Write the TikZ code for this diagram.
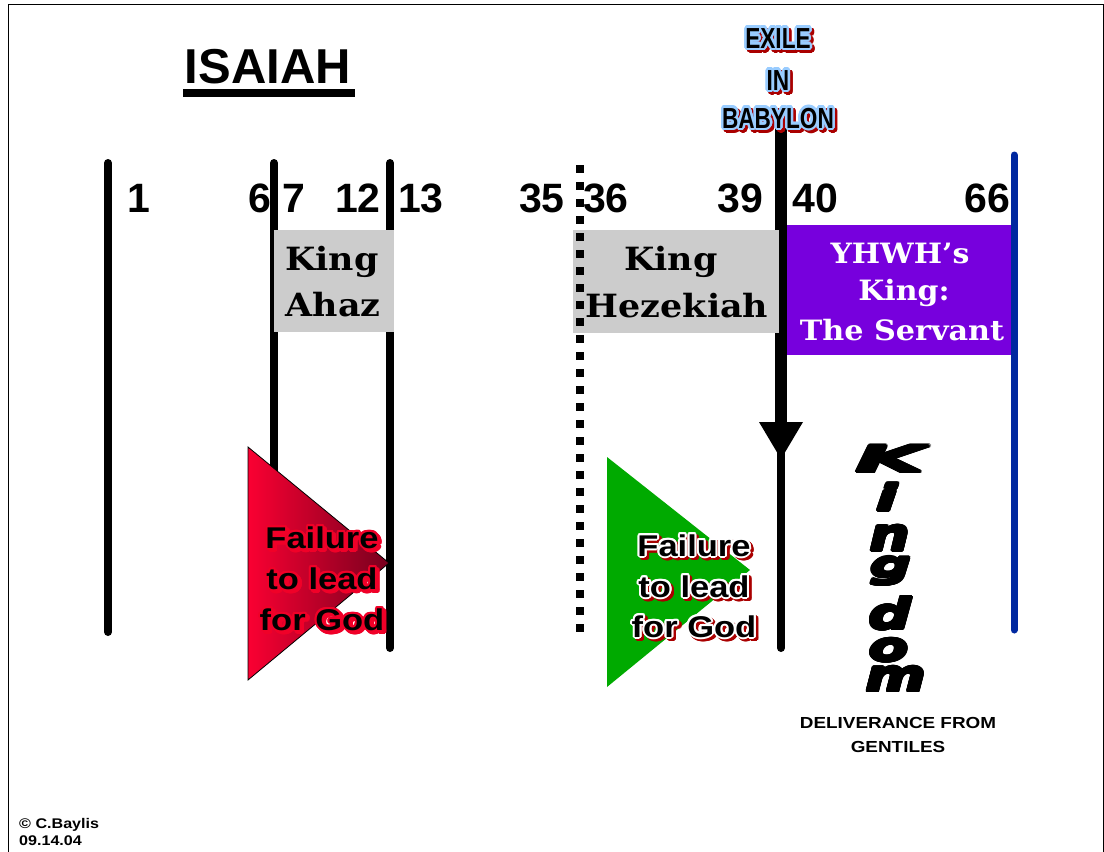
\documentclass[tikz,border=0pt]{standalone}
\usepackage{fontspec}
\usepackage{graphicx}
\usepackage[copies]{contour}
\setmainfont{Liberation Sans}
\newfontfamily\serifbold{DejaVu Serif}
\newfontfamily\kingf{DejaVu Sans}
\usetikzlibrary{calc}

\definecolor{boxgray}{RGB}{204,204,204}
\definecolor{servpurple}{RGB}{119,0,221}
\definecolor{lineblue}{RGB}{0,40,160}
\definecolor{trired}{RGB}{250,0,50}
\definecolor{tridark}{RGB}{120,0,30}
\definecolor{trigreen}{RGB}{0,170,0}
\definecolor{exileblue}{RGB}{153,204,255}
\definecolor{shadowred}{RGB}{170,0,0}
\definecolor{outred}{RGB}{240,0,40}

\newcommand\sx[2]{\scalebox{#1}[1]{#2}}
\newcommand\kl[3]{\contour{black}{\scalebox{#1}[#2]{#3}}}
\newcommand\fancy[6]{%
  \node[#3, text=#5, xshift=2.5pt, yshift=-2.5pt] (#1s) at (#2) {\contour{#5}{#6}};
  \node[#3] (#1) at (#2) {\contour{#4}{#6}};
}

\begin{document}
\begin{tikzpicture}[x=1pt,y=-1pt,
  bar/.style={line width=8pt, line cap=round},
  num/.style={font=\bfseries\fontsize{41}{41}\selectfont, anchor=base, inner sep=0pt},
  boxtext/.style={font=\serifbold\bfseries\fontsize{32}{32}\selectfont, anchor=base, inner sep=0pt},
  servtext/.style={font=\serifbold\bfseries\fontsize{28}{28}\selectfont, anchor=base, inner sep=0pt, text=white},
  failtext/.style={font=\bfseries\fontsize{30}{30}\selectfont, anchor=base, inner sep=0pt, execute at begin node=\contourlength{2pt}},
  exiletext/.style={font=\bfseries\fontsize{29}{29}\selectfont, anchor=base, inner sep=0pt, execute at begin node=\contourlength{2.5pt}},
  klet/.style={font=\kingf\bfseries\itshape\fontsize{36}{36}\selectfont, inner sep=0pt, execute at begin node=\contourlength{1.5pt}},
  smalltext/.style={font=\bfseries\fontsize{16}{16}\selectfont, anchor=base, inner sep=0pt},
  tinytext/.style={font=\bfseries\fontsize{14}{14}\selectfont, anchor=base west, inner sep=0pt}
]
\useasboundingbox (0,0) rectangle (1104,852);
\fill[white] (0,0) rectangle (1104,852);
\draw[line width=1pt] (8,870) -- (8,4) -- (1103,4) -- (1103,870);

% title
\node[font=\bfseries\fontsize{49}{49}\selectfont, anchor=base, inner sep=0pt] (title) at (268,83) {ISAIAH};
\fill (183,89) rectangle (355,97);

% timeline bars
\coordinate (l1t) at (108,163); \coordinate (l1b) at (108,632);
\coordinate (l2t) at (274,163); \coordinate (l2b) at (274,630);
\coordinate (l3t) at (390,163); \coordinate (l3b) at (390,648);
\draw[bar] (l1t) -- (l1b);
\draw[bar] (l2t) -- (l2b);
\draw[bar] (l3t) -- (l3b);

% exile arrow
\coordinate (at) at (781,126); \coordinate (ah) at (781,424);
\coordinate (ab) at (781,648);
\draw[line width=12pt] (at) -- (ah);
\fill (759,422) -- (803,422) -- (781,459) -- cycle;
\draw[line width=8pt, line cap=round] (781,450) -- (ab);

% grey boxes
\fill[boxgray] (274,230) rectangle (394,332);
\fill[boxgray] (573,230) rectangle (779,333);

% dotted bar
\coordinate (dt) at (580,165); \coordinate (db) at (580,640);
\draw[line width=8pt, dash pattern=on 8pt off 9pt] (dt) -- (db);

% purple box and blue bar
\fill[servpurple] (787,225) rectangle (1015,355);
\coordinate (bt) at (1014,155); \coordinate (bb) at (1014,630);
\draw[bar, line width=7pt, lineblue] (bt) -- (bb);

% triangles
\shadedraw[left color=trired, right color=tridark, draw=black, line width=0.8pt]
  (248,447) -- (248,680) -- (389,563) -- cycle;
\fill[trigreen] (607,457) -- (607,687) -- (750,570) -- cycle;

% numbers
\node[num] (n1) at (139,212) {1};
\node[num] (n6) at (260,212) {6};
\node[num] (n7) at (294,212) {7};
\node[num] (n12) at (358,212) {12};
\node[num] (n13) at (421,212) {13};
\node[num] (n35) at (542,212) {35};
\node[num] (n36) at (606,212) {36};
\node[num] (n39) at (740,212) {39};
\node[num] (n40) at (815,212) {40};
\node[num] (n66) at (987,212) {66};

% box texts
\node[boxtext] (ahaz1) at (332,270) {\sx{1.09}{King}};
\node[boxtext] (ahaz2) at (333,316) {\sx{1.09}{Ahaz}};
\node[boxtext] (hez1) at (671,270) {\sx{1.09}{King}};
\node[boxtext] (hez2) at (677,317) {\sx{1.09}{Hezekiah}};
\node[servtext] (serv1) at (900,263) {\sx{1.07}{YHWH’s}};
\node[servtext] (serv2) at (904,300) {\sx{1.07}{King:}};
\node[servtext] (serv3) at (902,340) {\sx{1.08}{The Servant}};

% exile text
\fancy{ex1}{778,48}{exiletext}{exileblue}{shadowred}{\sx{0.78}{EXILE}}
\fancy{ex2}{778,90}{exiletext}{exileblue}{shadowred}{\sx{0.78}{IN}}
\fancy{ex3}{778,128}{exiletext}{exileblue}{shadowred}{\sx{0.78}{BABYLON}}

% failure texts
\fancy{fr1}{322,548}{failtext}{outred}{outred}{\sx{1.15}{Failure}}
\fancy{fr2}{322,589}{failtext}{outred}{outred}{\sx{1.15}{to lead}}
\fancy{fr3}{322,630}{failtext}{outred}{outred}{\sx{1.15}{for God}}
\fancy{fg1}{694,556}{failtext}{white}{shadowred}{\sx{1.15}{Failure}}
\fancy{fg2}{694,597}{failtext}{white}{shadowred}{\sx{1.15}{to lead}}
\fancy{fg3}{694,637}{failtext}{white}{shadowred}{\sx{1.15}{for God}}

% kingdom
\node[klet] (kK) at (890,460) {\kl{2.5}{1}{K}};
\node[klet] (ki) at (887,498) {\kl{1.75}{1}{i}};
\node[klet] (kn) at (890,539) {\kl{1.55}{1.25}{n}};
\node[klet] (kg) at (891,572) {\kl{1.6}{1}{g}};
\node[klet] (kd) at (890,614) {\kl{1.65}{1.17}{d}};
\node[klet] (ko) at (889,651) {\kl{1.6}{1.1}{o}};
\node[klet] (km) at (896,680) {\kl{1.6}{1.2}{m}};

\node[smalltext] (deliv1) at (898,728) {\sx{1.18}{DELIVERANCE FROM}};
\node[smalltext] (deliv2) at (898,752) {\sx{1.18}{GENTILES}};

\node[tinytext] (copy1) at (19,828) {\sx{1.15}{© C.Baylis}};
\node[tinytext] (copy2) at (19,845) {\sx{1.15}{09.14.04}};
\end{tikzpicture}
\end{document}
